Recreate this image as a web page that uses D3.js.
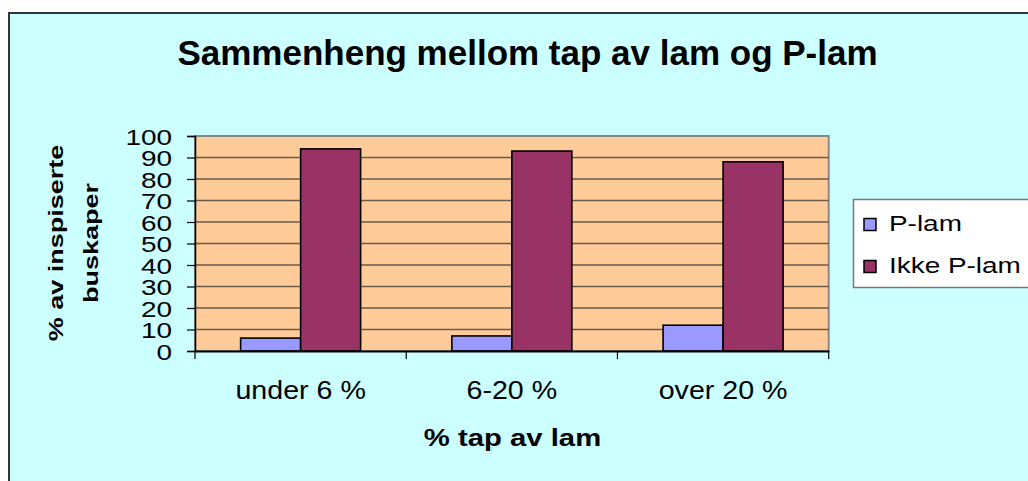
<!DOCTYPE html>
<html><head><meta charset="utf-8">
<script src="https://cdn.jsdelivr.net/npm/d3@7"></script>
<style>
html,body{margin:0;padding:0;background:#fff;overflow:hidden;}
svg{display:block;}
text{font-family:"Liberation Sans", Arial, sans-serif;fill:#000;}
</style></head>
<body>
<svg id="chart" width="1028" height="481"></svg>
<script>
const categories = ["under 6 %", "6-20 %", "over 20 %"];
const seriesNames = ["P-lam", "Ikke P-lam"];
const pLam = [6, 7, 12];
const ikkePLam = [94, 93, 88];
const yTicks = [0, 10, 20, 30, 40, 50, 60, 70, 80, 90, 100];
const colors = ["#9999FF", "#993366"];
const titleText = "Sammenheng mellom tap av lam og P-lam";
const xTitle = "% tap av lam";
const yTitleLines = ["% av inspiserte", "buskaper"];

const svg = d3.select("#chart");

// outer chart area
svg.append("rect").attr("x", 9).attr("y", 13).attr("width", 1040).attr("height", 500)
  .attr("fill", "#CCFFFF").attr("stroke", "#333").attr("stroke-width", 2);

const plot = {left: 195, right: 828.7, top: 136, bottom: 351};

const x0 = d3.scaleBand().domain(categories).range([plot.left, plot.right]).padding(0);
const groupW = 120;
const x1 = d3.scaleBand().domain(seriesNames)
  .range([(x0.bandwidth() - groupW) / 2, (x0.bandwidth() + groupW) / 2]).padding(0);
const y = d3.scaleLinear().domain([0, 100]).range([plot.bottom, plot.top]);

// plot background
svg.append("rect").attr("x", plot.left).attr("y", plot.top)
  .attr("width", plot.right - plot.left).attr("height", plot.bottom - plot.top)
  .attr("fill", "#FFCC99").attr("stroke", "#888").attr("stroke-width", 2);

// gridlines
svg.append("g").selectAll("line").data(yTicks.filter(d => d > 0 && d < 100)).join("line")
  .attr("x1", plot.left).attr("x2", plot.right)
  .attr("y1", d => y(d)).attr("y2", d => y(d))
  .attr("stroke", "#6a5a4c").attr("stroke-width", 1.5);

// bars
const data = categories.map((c, i) => ({cat: c, vals: [pLam[i], ikkePLam[i]]}));
const groups = svg.append("g").selectAll("g").data(data).join("g")
  .attr("transform", d => `translate(${x0(d.cat)},0)`);
groups.selectAll("rect").data(d => d.vals.map((v, j) => ({name: seriesNames[j], v, j}))).join("rect")
  .attr("x", d => x1(d.name)).attr("width", x1.bandwidth())
  .attr("y", d => y(d.v)).attr("height", d => y(0) - y(d.v))
  .attr("fill", d => colors[d.j]).attr("stroke", "#000").attr("stroke-width", 1.6);

// y axis
const yAxis = d3.axisLeft(y).tickValues(yTicks).tickSize(8).tickFormat("");
const yg = svg.append("g").attr("transform", `translate(${plot.left},0)`).call(yAxis);
yg.select(".domain").attr("stroke", "#000").attr("stroke-width", 1.5);
yg.selectAll(".tick line").attr("stroke", "#000").attr("stroke-width", 1.2);
yg.selectAll(".tick").append("text")
  .attr("transform", "translate(-23,8) scale(1.27,1)")
  .attr("text-anchor", "end").attr("font-size", 22).attr("fill", "#000")
  .text(d => d);

// x axis
const xAxis = d3.axisBottom(x0).tickSize(0).tickFormat("");
const xg = svg.append("g").attr("transform", `translate(0,${plot.bottom})`).call(xAxis);
xg.select(".domain").attr("stroke", "#000").attr("stroke-width", 2);
const bounds = [0, 1, 2, 3].map(i => plot.left + i * x0.step());
xg.selectAll(".bound").data(bounds).join("line").attr("class", "bound")
  .attr("x1", d => d).attr("x2", d => d).attr("y1", 0).attr("y2", 8)
  .attr("stroke", "#000").attr("stroke-width", 1.2);
xg.selectAll(".cat").data(categories).join("text").attr("class", "cat")
  .attr("transform", d => `translate(${x0(d) + x0.bandwidth() / 2},48) scale(1.1,1)`)
  .attr("text-anchor", "middle").attr("font-size", 26).text(d => d);

// title
svg.append("text").attr("x", 527.5).attr("y", 65).attr("text-anchor", "middle")
  .attr("font-size", 35).attr("font-weight", "bold").text(titleText);

// x axis title
svg.append("text").attr("transform", "translate(512.5,446) scale(1.22,1)")
  .attr("text-anchor", "middle").attr("font-size", 24).attr("font-weight", "bold").text(xTitle);

// y axis title
const yTitleX = [62.5, 97.5];
yTitleLines.forEach((t, i) => {
  svg.append("text").attr("transform", `translate(${yTitleX[i]},243) rotate(-90) scale(1.35,1)`)
    .attr("text-anchor", "middle").attr("font-size", 20).attr("font-weight", "bold").text(t);
});

// legend
const lg = svg.append("g");
lg.append("rect").attr("x", 853.5).attr("y", 199.5).attr("width", 200).attr("height", 88)
  .attr("fill", "#fff").attr("stroke", "#777").attr("stroke-width", 1.5);
const legY = [230.5, 272.5];
seriesNames.forEach((n, i) => {
  lg.append("rect").attr("x", 864).attr("y", legY[i] - 12).attr("width", 12).attr("height", 12)
    .attr("fill", colors[i]).attr("stroke", "#000").attr("stroke-width", 1.5);
  lg.append("text").attr("transform", `translate(889,${legY[i]}) scale(1.27,1)`)
    .attr("font-size", 22).text(n);
});
</script>
</body></html>
